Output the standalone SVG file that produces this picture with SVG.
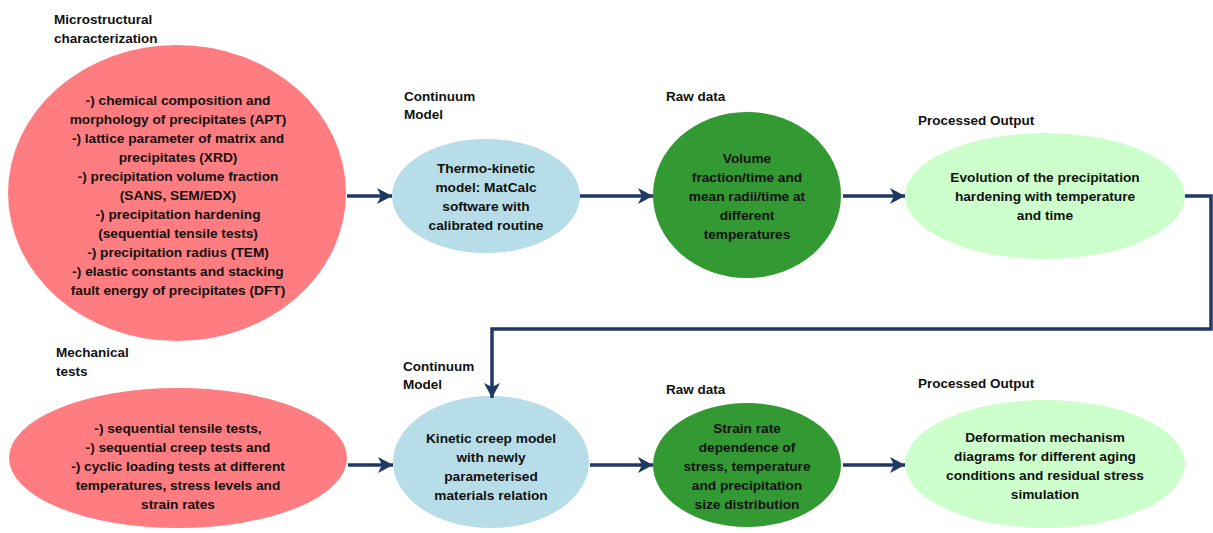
<svg xmlns="http://www.w3.org/2000/svg" width="1213" height="533" viewBox="0 0 1213 533">
<style>
.t{font-family:"Liberation Sans",Arial,sans-serif;font-weight:bold;font-size:13.7px;fill:#111;text-anchor:middle}
.l{font-family:"Liberation Sans",Arial,sans-serif;font-weight:bold;font-size:13.5px;fill:#111}
.red{fill:#ff7c80}
.blue{fill:#b7dee8}
.green{fill:#339933}
.lgreen{fill:#ccffcc}
.c{stroke:#1f3864;stroke-width:3.5;fill:none}
</style>
<defs>
<marker id="ah" markerUnits="userSpaceOnUse" markerWidth="18" markerHeight="18" refX="16" refY="9" orient="auto">
<path d="M1,1 L16,9 L1,17 L5,9 z" fill="#1f3864"/>
</marker>
</defs>
<rect width="1213" height="533" fill="#fff"/>

<g id="labels">
<text class="l" x="54" y="24">Microstructural</text>
<text class="l" x="54" y="43">characterization</text>
<text class="l" x="404" y="101">Continuum</text>
<text class="l" x="404" y="119">Model</text>
<text class="l" x="666" y="101">Raw data</text>
<text class="l" x="918" y="125">Processed Output</text>
<text class="l" x="56" y="357">Mechanical</text>
<text class="l" x="56" y="376">tests</text>
<text class="l" x="403" y="371">Continuum</text>
<text class="l" x="403" y="389">Model</text>
<text class="l" x="666" y="394">Raw data</text>
<text class="l" x="918" y="388">Processed Output</text>
</g>

<g id="microstructural">
<ellipse class="red" cx="177" cy="193" rx="169" ry="148"/>
<text class="t" x="178" y="105">-) chemical composition and</text>
<text class="t" x="178" y="124">morphology of precipitates (APT)</text>
<text class="t" x="178" y="143">-) lattice parameter of matrix and</text>
<text class="t" x="178" y="162">precipitates (XRD)</text>
<text class="t" x="178" y="181">-) precipitation volume fraction</text>
<text class="t" x="178" y="200">(SANS, SEM/EDX)</text>
<text class="t" x="178" y="219">-) precipitation hardening</text>
<text class="t" x="178" y="238">(sequential tensile tests)</text>
<text class="t" x="178" y="257">-) precipitation radius (TEM)</text>
<text class="t" x="178" y="276">-) elastic constants and stacking</text>
<text class="t" x="178" y="295">fault energy of precipitates (DFT)</text>
</g>

<g id="thermo">
<ellipse class="blue" cx="486" cy="196" rx="94" ry="57"/>
<text class="t" x="486" y="173">Thermo-kinetic</text>
<text class="t" x="486" y="192">model: MatCalc</text>
<text class="t" x="486" y="211">software with</text>
<text class="t" x="486" y="230">calibrated routine</text>
</g>

<g id="rawdata1">
<ellipse class="green" cx="747" cy="195" rx="94" ry="83"/>
<text class="t" x="747" y="163">Volume</text>
<text class="t" x="747" y="182">fraction/time and</text>
<text class="t" x="747" y="201">mean radii/time at</text>
<text class="t" x="747" y="220">different</text>
<text class="t" x="747" y="239">temperatures</text>
</g>

<g id="output1">
<ellipse class="lgreen" cx="1045" cy="196" rx="140" ry="63"/>
<text class="t" x="1045" y="182">Evolution of the precipitation</text>
<text class="t" x="1045" y="201">hardening with temperature</text>
<text class="t" x="1045" y="220">and time</text>
</g>

<g id="mechanical">
<ellipse class="red" cx="178" cy="458" rx="169" ry="70"/>
<text class="t" x="178" y="433">-) sequential tensile tests,</text>
<text class="t" x="178" y="452">-) sequential creep tests and</text>
<text class="t" x="178" y="471">-) cyclic loading tests at different</text>
<text class="t" x="178" y="490">temperatures, stress levels and</text>
<text class="t" x="178" y="509">strain rates</text>
</g>

<g id="creep">
<ellipse class="blue" cx="491" cy="462" rx="98" ry="66"/>
<text class="t" x="491" y="443">Kinetic creep model</text>
<text class="t" x="491" y="462">with newly</text>
<text class="t" x="491" y="481">parameterised</text>
<text class="t" x="491" y="500">materials relation</text>
</g>

<g id="rawdata2">
<ellipse class="green" cx="747" cy="465" rx="94" ry="62"/>
<text class="t" x="747" y="433">Strain rate</text>
<text class="t" x="747" y="452">dependence of</text>
<text class="t" x="747" y="471">stress, temperature</text>
<text class="t" x="747" y="490">and precipitation</text>
<text class="t" x="747" y="509">size distribution</text>
</g>

<g id="output2">
<ellipse class="lgreen" cx="1045" cy="464" rx="140" ry="64"/>
<text class="t" x="1045" y="442">Deformation mechanism</text>
<text class="t" x="1045" y="461">diagrams for different aging</text>
<text class="t" x="1045" y="480">conditions and residual stress</text>
<text class="t" x="1045" y="499">simulation</text>
</g>

<g id="connectors">
<line class="c" x1="347" y1="196" x2="392" y2="196" marker-end="url(#ah)"/>
<line class="c" x1="580" y1="196" x2="653" y2="196" marker-end="url(#ah)"/>
<line class="c" x1="843" y1="196" x2="905" y2="196" marker-end="url(#ah)"/>
<polyline class="c" points="1185,196 1211,196 1211,329 492,329 492,398" marker-end="url(#ah)"/>
<line class="c" x1="348" y1="465" x2="393" y2="465" marker-end="url(#ah)"/>
<line class="c" x1="590" y1="465" x2="653" y2="465" marker-end="url(#ah)"/>
<line class="c" x1="843" y1="465" x2="905" y2="465" marker-end="url(#ah)"/>
</g>
</svg>
